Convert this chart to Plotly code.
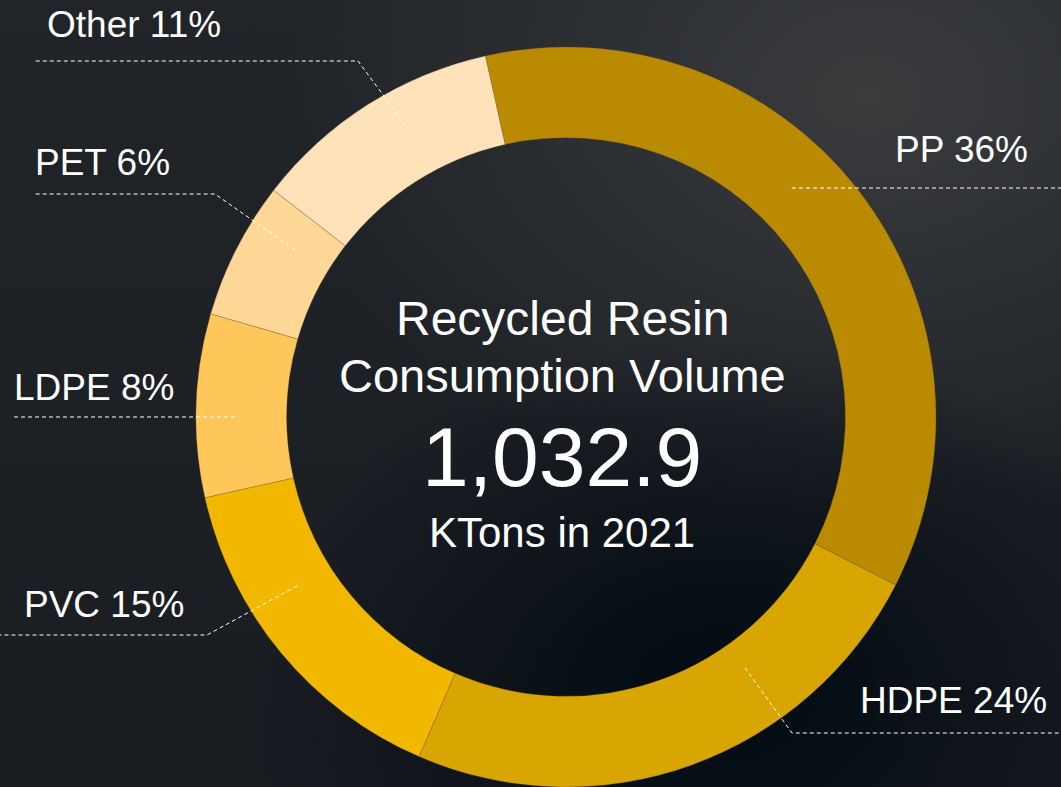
import base64
import plotly.graph_objects as go

# ---- data ----
categories = ["PP", "HDPE", "PVC", "LDPE", "PET", "Other"]
shares = [36, 24, 15, 8, 6, 11]
label_texts = ["PP 36%", "HDPE 24%", "PVC 15%", "LDPE 8%", "PET 6%", "Other 11%"]
colors = ["#BA8A00", "#D9A500", "#F2B800", "#FFC75A", "#FFD796", "#FFE2BA"]
total_value = "1,032.9"
title_lines = ["Recycled Resin", "Consumption Volume"]
unit_text = "KTons in 2021"

W, H = 1061, 787
CX, CY, R = 566, 417, 370  # pixel geometry of the donut


def px(x):
    return x / W


def py(y):
    return 1 - y / H


# ---- background (soft gradients imitating the dark photo) ----
svg = f"""<svg xmlns='http://www.w3.org/2000/svg' width='{W}' height='{H}'>
<defs>
<radialGradient id='a' cx='0.82' cy='0.12' r='0.55'>
<stop offset='0' stop-color='#393b3d'/><stop offset='1' stop-color='#393b3d' stop-opacity='0'/></radialGradient>
<radialGradient id='b' cx='0.68' cy='0.88' r='0.45'>
<stop offset='0' stop-color='#000a12'/><stop offset='1' stop-color='#000a12' stop-opacity='0'/></radialGradient>
<linearGradient id='c' x1='0' y1='0' x2='0' y2='1'>
<stop offset='0' stop-color='#212428'/><stop offset='1' stop-color='#191c21'/></linearGradient>
</defs>
<rect width='100%' height='100%' fill='url(#c)'/>
<rect width='100%' height='100%' fill='url(#a)'/>
<rect width='100%' height='100%' fill='url(#b)'/>
</svg>"""
bg_uri = "data:image/svg+xml;base64," + base64.b64encode(svg.encode()).decode()

fig = go.Figure()
fig.add_trace(go.Pie(
    labels=categories,
    values=shares,
    sort=False,
    direction="clockwise",
    rotation=-12.6,
    hole=0.755,
    marker=dict(colors=colors, line=dict(color="rgba(120,95,40,0.5)", width=0.6)),
    textinfo="none",
    hoverinfo="none",
    domain=dict(x=[px(CX - R), px(CX + R)], y=[py(CY + R), py(CY - R)]),
))

font = "Arial, Liberation Sans, sans-serif"
annotations = []

# center texts
center_specs = [
    (title_lines[0], 318, 48),
    (title_lines[1], 375, 47),
    (total_value, 457, 84),
    (unit_text, 532, 42),
]
for txt, y, sz in center_specs:
    annotations.append(dict(text=txt, x=px(CX - 4), y=py(y), xref="paper", yref="paper",
                            xanchor="center", yanchor="middle", showarrow=False,
                            font=dict(family=font, size=sz, color="white")))

# outer labels: (x, y, anchor)
label_pos = {
    "PP 36%": (1030, 149, "right"),
    "HDPE 24%": (1049, 700, "right"),
    "PVC 15%": (22, 604, "left"),
    "LDPE 8%": (12, 387, "left"),
    "PET 6%": (33, 162, "left"),
    "Other 11%": (45, 24, "left"),
}
for txt in label_texts:
    x, y, anc = label_pos[txt]
    annotations.append(dict(text=txt, x=px(x), y=py(y), xref="paper", yref="paper",
                            xanchor=anc, yanchor="middle", showarrow=False,
                            font=dict(family=font, size=37, color="white")))

# leader lines (pixel polylines)
leaders = [
    [(792, 188), (1061, 188)],
    [(745, 668), (792, 733), (1061, 733)],
    [(297, 586), (207, 635), (0, 635)],
    [(235, 417), (13, 417)],
    [(295, 250), (215, 194), (34, 194)],
    [(406, 126), (358, 61), (34, 61)],
]
shapes = []
for pts in leaders:
    path = "M " + " L ".join(f"{px(x):.5f},{py(y):.5f}" for x, y in pts)
    shapes.append(dict(type="path", path=path, xref="paper", yref="paper",
                       line=dict(color="white", width=1, dash="4px,3px")))

fig.update_layout(
    width=W, height=H,
    margin=dict(l=0, r=0, t=0, b=0),
    paper_bgcolor="#1d2024",
    plot_bgcolor="rgba(0,0,0,0)",
    showlegend=False,
    annotations=annotations,
    shapes=shapes,
    images=[dict(source=bg_uri, xref="paper", yref="paper", x=0, y=1, sizex=1, sizey=1,
                 sizing="stretch", xanchor="left", yanchor="top", layer="below")],
)

fig.write_html(
    "out.html",
    config={"displayModeBar": False},
    post_script="document.body.style.margin='0';document.body.style.overflow='hidden';document.body.style.background='#1d2024';",
)
